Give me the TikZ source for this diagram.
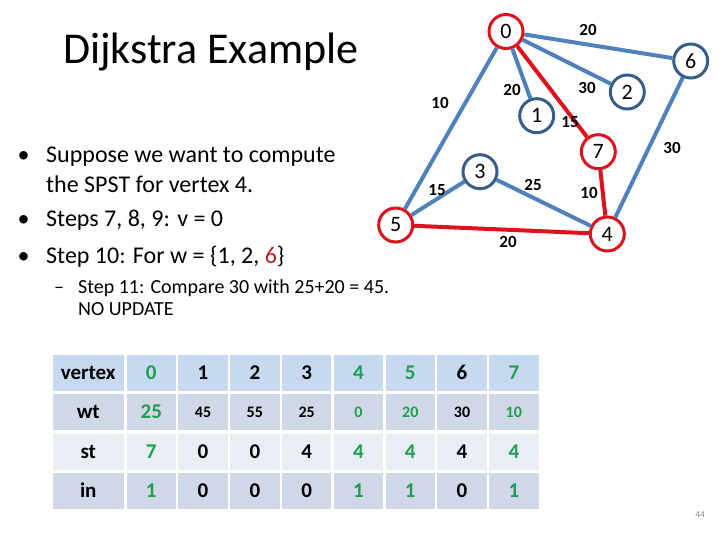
\documentclass[tikz,border=0pt]{standalone}
\usepackage{fontspec}
\setmainfont{Carlito}
\definecolor{eblue}{RGB}{79,129,189}
\definecolor{nblue}{RGB}{56,93,138}
\definecolor{ered}{RGB}{222,18,28}
\definecolor{dred}{RGB}{192,32,32}
\definecolor{tgreen}{RGB}{30,160,80}
\definecolor{row0}{RGB}{198,217,241}
\definecolor{row1}{RGB}{208,216,232}
\definecolor{row2}{RGB}{233,237,244}
\definecolor{row3}{RGB}{208,216,232}
\colorlet{col0}{black}\colorlet{col1}{tgreen}\colorlet{col2}{black}
\colorlet{col3}{black}\colorlet{col4}{black}\colorlet{col5}{tgreen}
\colorlet{col6}{tgreen}\colorlet{col7}{black}\colorlet{col8}{tgreen}
\begin{document}
\begin{tikzpicture}[x=1pt,y=-1pt,
  vtx/.style={circle,draw=#1,line width=3pt,fill=white,minimum size=34pt,inner sep=0pt,font=\fontsize{22}{22}\selectfont},
  edge/.style={line width=4pt,eblue},
  tree/.style={line width=4pt,ered},
  wlabel/.style={font=\fontsize{17}{17}\selectfont\bfseries},
  cell/.style={minimum height=36pt,inner sep=0pt,text depth=0pt},
  txt/.style={anchor=base west,inner sep=0pt}]
\useasboundingbox (0,0) rectangle (720,540);
\node[txt,font=\fontsize{44}{44}\selectfont] (title) at (63,64) {Dijkstra Example};
\foreach \n/\x/\y/\c in {0/506/31.5/ered,6/690.7/61/nblue,2/627.3/92/nblue,1/536.7/115.7/nblue,
  7/598.3/151.7/ered,3/480/171.7/nblue,5/395.7/225/ered,4/607.3/234/ered}{
  \node[vtx=\c] (v\n) at (\x,\y) {\n};
}
\foreach \a/\b in {0/6,0/2,0/1,0/5,6/4,3/4,3/5}{
  \draw[edge] (v\a) -- (v\b);
}
\foreach \a/\b in {0/7,7/4,5/4}{
  \draw[tree] (v\a) -- (v\b);
}
\foreach \a/\b/\w/\x/\y in {0/6/20/588/30,0/2/30/587/88,0/1/20/512/90,0/7/15/570/122,0/5/10/440/103,
  6/4/30/672/148,7/4/10/589/193,3/4/25/533/185,3/5/15/437/190,5/4/20/508/242}{
  \node[wlabel] (w\a\b) at (\x,\y) {\w};
}
\begin{scope}[font=\fontsize{24}{29}\selectfont]
\foreach \y in {163,226.7,263}{
  \node[anchor=base,inner sep=0pt] at (23.5,\y) {•};
}
\node[txt] (b1) at (46,163) {Suppose we want to compute};
\node[txt] (b1b) at (46,192.7) {the SPST for vertex 4.};
\node[txt] (b2) at (46,226.7) {Steps 7, 8, 9: v = 0};
\node[txt] (b3) at (46,263) {Step 10: For w = \{1, 2, \textcolor{dred}{6}\}};
\end{scope}
\begin{scope}[font=\fontsize{20}{20}\selectfont]
\node[anchor=base,inner sep=0pt] at (59,293) {–};
\node[txt] (b4) at (78,293) {Step 11: Compare 30 with 25+20 = 45.};
\node[txt] (b4b) at (78,315.7) {NO UPDATE};
\end{scope}
\foreach \row [count=\i from 0] in {{vertex,0,1,2,3,4,5,6,7},{wt,25,45,55,25,0,20,30,10},
  {st,7,0,0,4,4,4,4,4},{in,1,0,0,0,1,1,0,1}}{
  \foreach \val [count=\j from 0] in \row {
    \pgfmathsetmacro\cx{\j==0 ? 88.25 : 151.25+51.8*(\j-1)}
    \pgfmathsetmacro\cw{\j==0 ? 71.5 : 49.5}
    \pgfmathsetmacro\fs{(\i==1 && \j>1) ? 16 : 21}
    \pgfmathsetmacro\th{0.63*\fs}
    \node[cell,fill=row\i,text=col\j,minimum width=\cw pt,text height=\th pt,
      font=\fontsize{\fs}{\fs}\selectfont\bfseries] (c\i\j) at (\cx,372.5+39.5*\i) {\val};
  }
}
\node[font=\fontsize{9}{9}\selectfont,text=gray] (page) at (700,515) {44};
\end{tikzpicture}
\end{document}
